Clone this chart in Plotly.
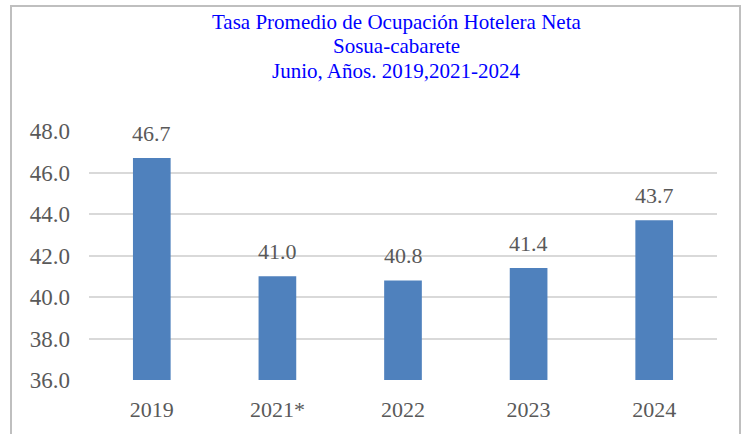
import plotly.graph_objects as go

categories = ["2019", "2021*", "2022", "2023", "2024"]
values = [46.7, 41.0, 40.8, 41.4, 43.7]
title_lines = ["Tasa Promedio de Ocupación Hotelera Neta", "Sosua-cabarete", "Junio, Años. 2019,2021-2024"]
tick_vals = [36, 38, 40, 42, 44, 46, 48]

FONT = "Liberation Serif, Times New Roman, serif"
GREY = "#595959"

W, H = 746, 434
PL, PR, PT, PB = 89, 717, 131, 380  # plot area in pixels
pw, ph = PR - PL, PB - PT


def px(x):
    return (x - PL) / pw


def py(y):
    return (PB - y) / ph


fig = go.Figure(go.Bar(
    x=categories, y=values,
    marker=dict(color="#4F81BD", line=dict(width=0)),
    hoverinfo="x+y",
))

annotations = []
for txt, yc in zip(title_lines, [22, 46, 71]):
    annotations.append(dict(
        text=txt, x=px(396), y=py(yc), xref="paper", yref="paper",
        xanchor="center", yanchor="middle", showarrow=False,
        font=dict(family=FONT, size=21, color="#0000FF"),
    ))
for i, v in enumerate(values):
    annotations.append(dict(
        text=f"{v:.1f}", x=i, y=v, xref="x", yref="y",
        xanchor="center", yanchor="bottom", yshift=10, showarrow=False,
        font=dict(family=FONT, size=22, color=GREY),
    ))

fig.update_layout(
    width=W, height=H,
    margin=dict(l=PL, r=W - PR, t=PT, b=H - PB),
    paper_bgcolor="white", plot_bgcolor="white",
    bargap=0.7,
    showlegend=False,
    annotations=annotations,
    shapes=[dict(type="rect", xref="paper", yref="paper",
                 x0=px(11), x1=px(740), y0=py(460), y1=py(6),
                 line=dict(color="#BFBFBF", width=2), layer="below")],
    xaxis=dict(type="category", categoryorder="array", categoryarray=categories,
               range=[-0.5, len(categories) - 0.5],
               tickfont=dict(family=FONT, size=22, color=GREY),
               showgrid=False, showline=False, ticks="", ticklabelstandoff=14),
    yaxis=dict(range=[36, 48], tickvals=tick_vals,
               ticktext=[f"{v:.1f}" for v in tick_vals],
               tickfont=dict(family=FONT, size=23, color=GREY),
               showgrid=True, gridcolor="#D9D9D9", gridwidth=1.5,
               zeroline=False, showline=False, ticks="", ticklabelstandoff=18),
)

fig.write_html("out.html", config={"displayModeBar": False},
               post_script="document.body.style.margin='0';")
